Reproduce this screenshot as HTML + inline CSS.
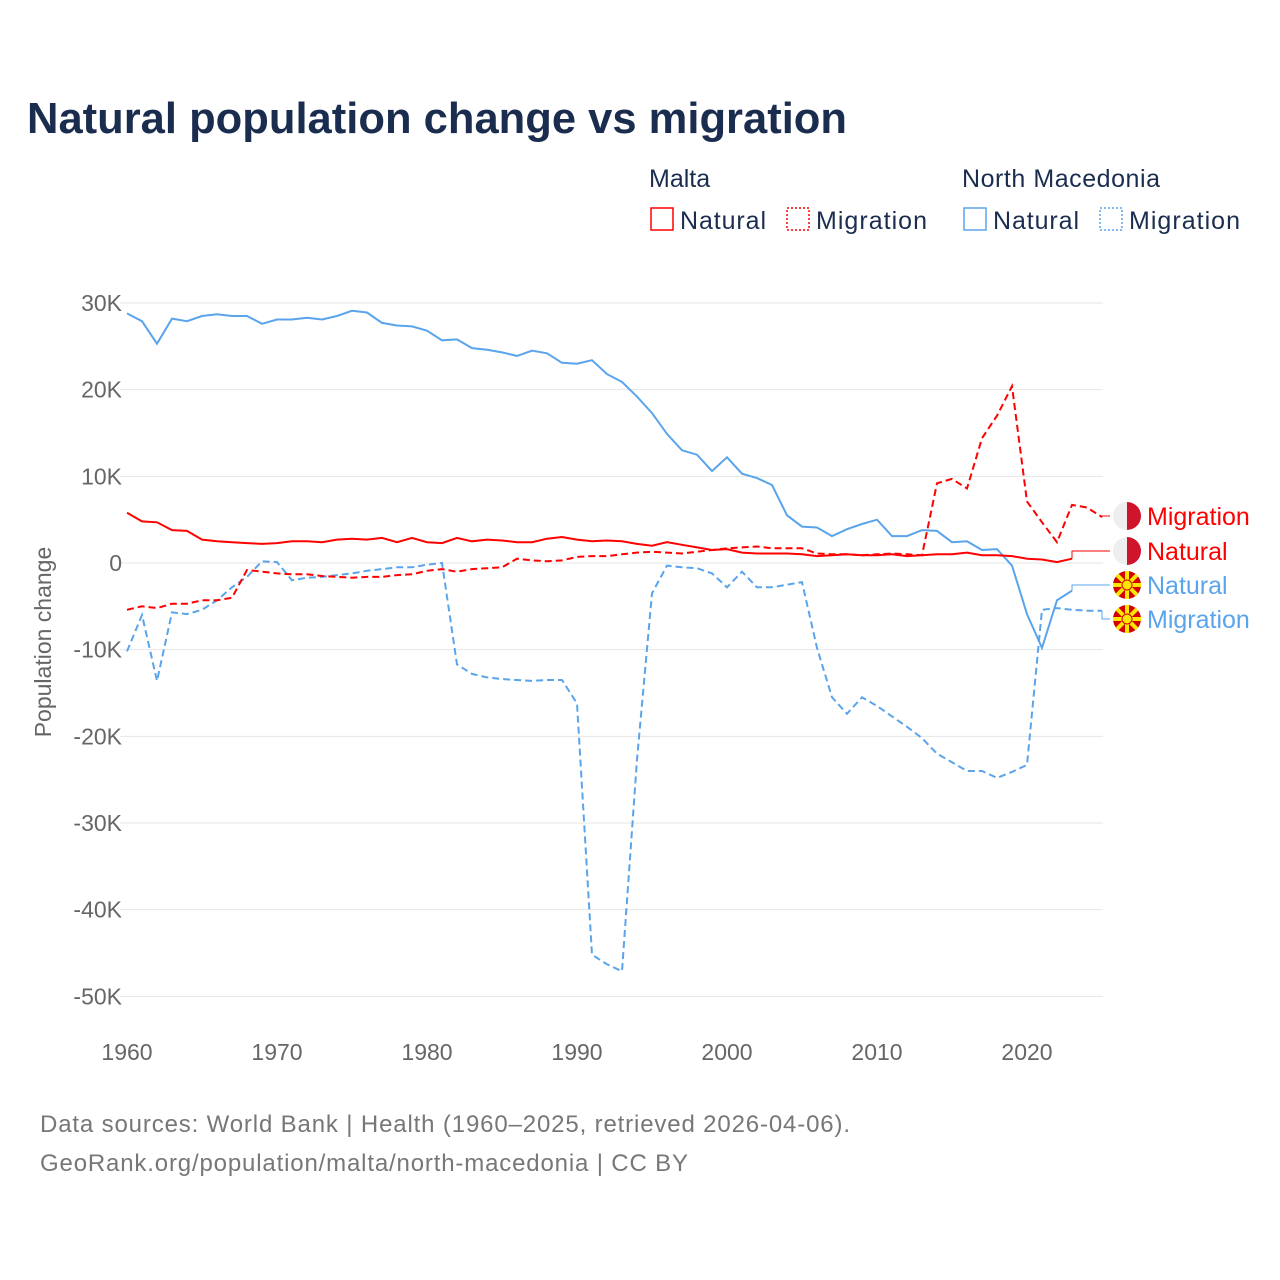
<!DOCTYPE html>
<html><head><meta charset="utf-8">
<style>
body{margin:0;background:#fff;font-family:"Liberation Sans",sans-serif;}
#wrap{position:relative;width:1280px;height:1280px;overflow:hidden;}
</style></head>
<body>
<div id="wrap">
<svg id="chart" width="1280" height="1280" xmlns="http://www.w3.org/2000/svg">
<text x="27" y="133" font-size="44" font-weight="bold" fill="#1b2d4f" textLength="820" lengthAdjust="spacingAndGlyphs">Natural population change vs migration</text>
<g font-size="25" fill="#1b2d4f">
<text x="649" y="187">Malta</text>
<text x="962" y="187" textLength="198">North Macedonia</text>
<g><rect x="651" y="208" width="22" height="22" fill="none" stroke="#f00" stroke-width="1.5"/><text x="680" y="229" textLength="86">Natural</text></g>
<g><rect x="787" y="208" width="22" height="22" fill="none" stroke="#f00" stroke-width="1.5" stroke-dasharray="2,2"/><text x="816" y="229" textLength="111">Migration</text></g>
<g><rect x="964" y="208" width="22" height="22" fill="none" stroke="#5aa4ec" stroke-width="1.5"/><text x="993" y="229" textLength="86">Natural</text></g>
<g><rect x="1100" y="208" width="22" height="22" fill="none" stroke="#5aa4ec" stroke-width="1.5" stroke-dasharray="2,2"/><text x="1129" y="229" textLength="111">Migration</text></g>
</g>
<g id="grid"></g><g id="series"></g><g id="labels"></g>
<text transform="translate(51,642) rotate(-90)" text-anchor="middle" font-size="23" fill="#666">Population change</text>
<text x="40" y="1132" font-size="24" fill="#777" textLength="810">Data sources: World Bank | Health (1960–2025, retrieved 2026-04-06).</text>
<text x="40" y="1171" font-size="24" fill="#777" textLength="648">GeoRank.org/population/malta/north-macedonia | CC BY</text>
</svg>
</div>
<script>
const yTicks=[30,20,10,0,-10,-20,-30,-40,-50];
const yTickLabels=["30K","20K","10K","0","-10K","-20K","-30K","-40K","-50K"];
const xTicks=[1960,1970,1980,1990,2000,2010,2020];
const startYear=1960;
const maltaNatural=[5.8,4.8,4.7,3.8,3.7,2.7,2.5,2.4,2.3,2.2,2.3,2.5,2.5,2.4,2.7,2.8,2.7,2.9,2.4,2.9,2.4,2.3,2.9,2.5,2.7,2.6,2.4,2.4,2.8,3.0,2.7,2.5,2.6,2.5,2.2,2.0,2.4,2.1,1.8,1.5,1.6,1.2,1.1,1.1,1.1,1.0,0.8,0.9,1.0,0.9,0.9,1.0,0.8,0.9,1.0,1.0,1.2,0.9,0.9,0.8,0.5,0.4,0.1,0.5];
const maltaMigration=[-5.4,-5.0,-5.2,-4.7,-4.7,-4.3,-4.3,-4.0,-0.8,-1.0,-1.2,-1.3,-1.3,-1.5,-1.6,-1.7,-1.6,-1.6,-1.4,-1.3,-0.9,-0.7,-1.0,-0.7,-0.6,-0.5,0.5,0.3,0.2,0.3,0.7,0.8,0.8,1.0,1.2,1.3,1.2,1.1,1.3,1.5,1.7,1.8,1.9,1.7,1.7,1.7,1.1,1.0,1.0,0.9,1.0,1.1,1.0,0.9,9.2,9.7,8.6,14.4,17.0,20.4,7.1,4.7,2.4,6.7,6.4,5.3];
const nmNatural=[28.8,27.9,25.3,28.2,27.9,28.5,28.7,28.5,28.5,27.6,28.1,28.1,28.3,28.1,28.5,29.1,28.9,27.7,27.4,27.3,26.8,25.7,25.8,24.8,24.6,24.3,23.9,24.5,24.2,23.1,23.0,23.4,21.8,20.9,19.2,17.3,14.9,13.0,12.5,10.6,12.2,10.3,9.8,9.0,5.5,4.2,4.1,3.1,3.9,4.5,5.0,3.1,3.1,3.8,3.7,2.4,2.5,1.5,1.6,-0.3,-5.9,-9.8,-4.3,-3.2];
const nmMigration=[-10.2,-6.0,-13.6,-5.7,-5.9,-5.4,-4.3,-2.8,-1.6,0.2,0.1,-2.0,-1.7,-1.6,-1.4,-1.2,-0.9,-0.7,-0.5,-0.5,-0.2,0.0,-11.7,-12.8,-13.2,-13.4,-13.5,-13.6,-13.5,-13.5,-16.2,-45.2,-46.3,-47.1,-22.7,-3.5,-0.3,-0.5,-0.6,-1.2,-2.8,-1.0,-2.8,-2.8,-2.5,-2.2,-9.8,-15.5,-17.4,-15.5,-16.5,-17.7,-18.9,-20.2,-22.0,-23.0,-24.0,-24.0,-24.8,-24.1,-23.3,-5.4,-5.2,-5.4,-5.5,-5.5];
const NS="http://www.w3.org/2000/svg";
const xs=y=>127+(y-1960)*15;
const ys=v=>563-v*8.667;
function mk(tag,attrs,parent){const e=document.createElementNS(NS,tag);for(const k in attrs)e.setAttribute(k,attrs[k]);parent.appendChild(e);return e;}
const grid=document.getElementById('grid');
yTicks.forEach((t,i)=>{
 const l=mk('line',{x1:120,x2:1103,y1:ys(t),y2:ys(t),stroke:'#e6e6e6','stroke-width':1},grid);
 
 
 const tx=mk('text',{x:122,y:ys(t)+8,'text-anchor':'end','font-size':23,fill:'#666'},grid);
 tx.textContent=yTickLabels[i];
 
 
});
xTicks.forEach(t=>{
 const tx=mk('text',{x:xs(t),y:1060,'text-anchor':'middle','font-size':23,fill:'#666'},grid);
 tx.textContent=t;
 
 
});
const ser=document.getElementById('series');
function line(arr,color,dash,name){
 const d=arr.map((v,i)=>(i?'L':'M')+xs(startYear+i).toFixed(1)+','+ys(v).toFixed(1)).join('');
 const p=mk('path',{d:d,fill:'none',stroke:color,'stroke-width':2,'stroke-dasharray':dash||'none'},ser);
 
 
}
line(nmMigration,'#5aa4ec','7,4','line-nm-migration');
line(nmNatural,'#5aa4ec','','line-nm-natural');
line(maltaMigration,'#f00','7,4','line-malta-migration');
line(maltaNatural,'#f00','','line-malta-natural');
const lab=document.getElementById('labels');
function endLabel(arr,labY,color,text,flag,name){
 const lx=xs(startYear+arr.length-1),ly=ys(arr[arr.length-1]);
 mk('path',{d:`M${lx},${ly}L${lx},${labY}L1110,${labY}`,fill:'none',stroke:color,'stroke-width':1},lab);
 const g=mk('g',{},lab);
 
 
 const cx=1127;
 if(flag==='mt'){
  mk('circle',{cx:cx,cy:labY,r:14,fill:'#eee'},g);
  mk('path',{d:`M${cx},${labY-14}A14,14 0 0 1 ${cx},${labY+14}Z`,fill:'#cf142b'},g);
 }else{
  mk('circle',{cx:cx,cy:labY,r:14,fill:'#d20000'},g);
  for(let a=0;a<8;a++){const an=a*Math.PI/4;mk('line',{x1:cx,y1:labY,x2:cx+14*Math.cos(an),y2:labY+14*Math.sin(an),stroke:'#ffe600','stroke-width':4},g);}
  mk('circle',{cx:cx,cy:labY,r:5,fill:'#ffe600',stroke:'#d20000','stroke-width':1},g);
 }
 const t=mk('text',{x:1147,y:labY+9,'font-size':25,fill:color},g);
 t.textContent=text;
}
endLabel(maltaMigration,516,'#f00','Migration','mt','end-label-malta-migration');
endLabel(maltaNatural,551,'#f00','Natural','mt','end-label-malta-natural');
endLabel(nmNatural,585,'#5aa4ec','Natural','mk','end-label-nm-natural');
endLabel(nmMigration,619,'#5aa4ec','Migration','mk','end-label-nm-migration');
</script>
</body></html>
